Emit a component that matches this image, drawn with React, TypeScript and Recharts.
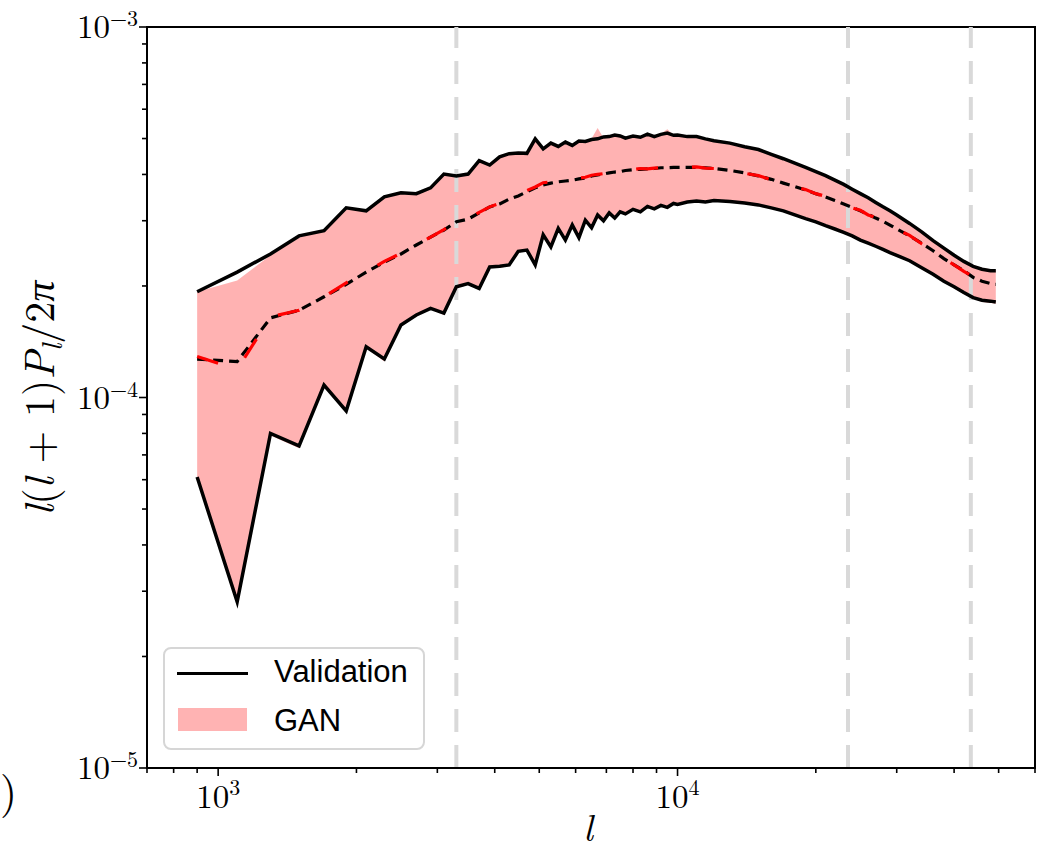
import React from 'react';
import {
  ComposedChart,
  Line,
  Area,
  XAxis,
  YAxis,
  ReferenceLine,
  ReferenceArea
} from 'recharts';

// multipole bins
const ells = [
  900, 1100, 1300, 1500, 1700, 1900, 2100, 2300, 2500, 2700,
  2900, 3100, 3300, 3500, 3700, 3900, 4100, 4300, 4500, 4700,
  4900, 5100, 5300, 5500, 5700, 5900, 6100, 6300, 6500, 6700,
  6900, 7100, 7300, 7500, 7700, 8000, 8300, 8600, 8900, 9200,
  9500, 9800, 10000, 10500, 11000, 11500, 12000, 13000, 14000, 15000,
  16000, 17000, 18000, 19000, 20000, 21000, 22000, 23000, 24000, 25000,
  26000, 27000, 28000, 29000, 30000, 32000, 34000, 36000, 38000, 40000,
  42000, 44000, 46000, 48000, 49300
];

// all power values below are in units of 1e-4
const valHigh = [
  1.93, 2.18, 2.44, 2.73, 2.82, 3.25, 3.19, 3.48, 3.57, 3.55,
  3.68, 4.01, 3.96, 4.01, 4.36, 4.24, 4.46, 4.55, 4.57, 4.56,
  4.99, 4.69, 4.86, 4.76, 4.89, 4.79, 4.92, 4.91, 4.97, 4.99,
  5.05, 5.06, 5.11, 5.08, 5.01, 5.08, 5.04, 5.14, 5.06, 5.13,
  5.17, 5.10, 5.11, 5.06, 5.06, 4.99, 4.93, 4.86, 4.75, 4.67,
  4.53, 4.41, 4.29, 4.18, 4.07, 3.97, 3.86, 3.76, 3.65, 3.55,
  3.46, 3.36, 3.27, 3.19, 3.11, 2.95, 2.80, 2.65, 2.53, 2.42,
  2.33, 2.26, 2.22, 2.20, 2.20
];

const valLow = [
  0.61, 0.281, 0.80, 0.74, 1.08, 0.92, 1.37, 1.27, 1.57, 1.67,
  1.74, 1.69, 1.99, 2.03, 1.97, 2.25, 2.26, 2.28, 2.48, 2.50,
  2.28, 2.75, 2.55, 2.86, 2.66, 2.92, 2.70, 3.01, 2.87, 3.11,
  3.00, 3.15, 3.05, 3.17, 3.13, 3.22, 3.17, 3.28, 3.23, 3.30,
  3.26, 3.34, 3.32, 3.37, 3.39, 3.37, 3.40, 3.38, 3.35, 3.31,
  3.25, 3.19, 3.11, 3.04, 2.98, 2.91, 2.85, 2.79, 2.73, 2.66,
  2.61, 2.56, 2.51, 2.46, 2.42, 2.34, 2.24, 2.15, 2.06, 1.99,
  1.92, 1.86, 1.83, 1.82, 1.81
];

const valMean = [
  1.27, 1.25, 1.64, 1.72, 1.87, 2.02, 2.18, 2.32, 2.44, 2.58,
  2.71, 2.83, 2.98, 3.03, 3.15, 3.27, 3.33, 3.43, 3.50, 3.59,
  3.68, 3.75, 3.79, 3.82, 3.84, 3.86, 3.89, 3.91, 3.96, 3.99,
  4.01, 4.04, 4.06, 4.07, 4.10, 4.12, 4.13, 4.14, 4.15, 4.17,
  4.17, 4.18, 4.18, 4.18, 4.18, 4.17, 4.15, 4.10, 4.04, 3.96,
  3.88, 3.79, 3.71, 3.63, 3.55, 3.48, 3.40, 3.33, 3.26, 3.19,
  3.12, 3.05, 2.99, 2.92, 2.85, 2.73, 2.61, 2.49, 2.37, 2.28,
  2.20, 2.11, 2.06, 2.03, 2.02
];

const ganHigh = [
  1.93, 2.07, 2.42, 2.70, 2.84, 3.22, 3.21, 3.46, 3.59, 3.57,
  3.70, 3.99, 3.98, 4.04, 4.33, 4.28, 4.44, 4.58, 4.55, 4.60,
  4.96, 4.72, 4.84, 4.80, 4.87, 4.83, 4.94, 4.93, 5.00, 5.34,
  5.02, 5.09, 5.08, 5.12, 5.03, 5.10, 5.07, 5.16, 5.10, 5.15,
  5.30, 5.12, 5.13, 5.08, 5.05, 5.01, 4.95, 4.88, 4.77, 4.69,
  4.56, 4.43, 4.31, 4.20, 4.09, 3.99, 3.88, 3.78, 3.67, 3.58,
  3.48, 3.38, 3.29, 3.20, 3.13, 2.97, 2.81, 2.67, 2.55, 2.44,
  2.35, 2.28, 2.24, 2.22, 2.21
];

const ganLow = [
  0.61, 0.281, 0.79, 0.73, 1.07, 0.91, 1.36, 1.25, 1.56, 1.66,
  1.73, 1.67, 1.98, 2.02, 1.95, 2.24, 2.24, 2.26, 2.46, 2.49,
  2.26, 2.73, 2.54, 2.84, 2.64, 2.90, 2.68, 2.99, 2.85, 3.04,
  2.98, 3.13, 3.03, 3.15, 3.11, 3.20, 3.15, 3.26, 3.20, 3.28,
  3.22, 3.32, 3.30, 3.35, 3.37, 3.35, 3.38, 3.36, 3.33, 3.29,
  3.23, 3.17, 3.09, 3.02, 2.96, 2.89, 2.83, 2.77, 2.71, 2.64,
  2.59, 2.54, 2.49, 2.44, 2.40, 2.32, 2.22, 2.13, 2.05, 1.97,
  1.90, 1.85, 1.81, 1.80, 1.79
];

const ganMean = [
  1.29, 1.19, 1.65, 1.72, 1.87, 2.04, 2.18, 2.33, 2.45, 2.58,
  2.71, 2.84, 2.98, 3.04, 3.16, 3.27, 3.34, 3.43, 3.52, 3.62,
  3.70, 3.80, 3.82, 3.86, 3.86, 3.88, 3.91, 3.93, 3.98, 4.00,
  4.02, 4.05, 4.07, 4.09, 4.11, 4.12, 4.15, 4.14, 4.16, 4.17,
  4.19, 4.18, 4.20, 4.18, 4.19, 4.16, 4.15, 4.11, 4.03, 3.97,
  3.87, 3.80, 3.70, 3.64, 3.55, 3.49, 3.39, 3.34, 3.25, 3.20,
  3.11, 3.06, 2.98, 2.93, 2.84, 2.74, 2.60, 2.49, 2.37, 2.28,
  2.19, 2.12, 2.06, 2.04, 2.03
];

const splitLines = [3300, 23500, 43500];

const xTicks = [
  700, 800, 900, 1000, 2000, 3000, 4000, 5000, 6000, 7000, 8000, 9000,
  10000, 20000, 30000, 40000, 50000, 60000
];
const yTicks = [
  1e-5, 2e-5, 3e-5, 4e-5, 5e-5, 6e-5, 7e-5, 8e-5, 9e-5,
  1e-4, 2e-4, 3e-4, 4e-4, 5e-4, 6e-4, 7e-4, 8e-4, 9e-4, 1e-3
];

const UNIT = 1e-4;
const data = ells.map((l, i) => ({
  l,
  hi: valHigh[i] * UNIT,
  lo: valLow[i] * UNIT,
  mean: valMean[i] * UNIT,
  gan: [ganLow[i] * UNIT, ganHigh[i] * UNIT],
  ganMean: ganMean[i] * UNIT
}));

const SERIF = '"Latin Modern Roman", "CMU Serif", "Liberation Serif", serif';
const SANS = '"Liberation Sans", "DejaVu Sans", sans-serif';

const isMajor = (v: number) => {
  const e = Math.log10(v);
  return Math.abs(e - Math.round(e)) < 1e-6;
};

const XTick = (props: any) => {
  const { x, y, payload } = props;
  const major = isMajor(payload.value);
  return (
    <g>
      <line x1={x} x2={x} y1={y} y2={y + (major ? 8 : 5)} stroke="#000" strokeWidth={1.6} />
      {major && (
        <text x={x} y={y + 40} textAnchor="middle" fontFamily={SERIF} fontSize={33} fill="#000">
          10<tspan dy={-13} fontSize={22}>{Math.round(Math.log10(payload.value))}</tspan>
        </text>
      )}
    </g>
  );
};

const YTick = (props: any) => {
  const { x, y, payload } = props;
  const major = isMajor(payload.value);
  const exp = Math.round(Math.log10(payload.value));
  return (
    <g>
      <line x1={x - (major ? 8 : 5)} x2={x} y1={y} y2={y} stroke="#000" strokeWidth={1.6} />
      {major && (
        <text x={x - 9} y={y + 11} textAnchor="end" fontFamily={SERIF} fontSize={33} fill="#000">
          10<tspan dy={-12} fontSize={22}>{'\u2212' + Math.abs(exp)}</tspan>
        </text>
      )}
    </g>
  );
};

const XLabel = () => (
  <text x={588} y={841} textAnchor="middle" fontFamily={SERIF} fontSize={38} fontStyle="italic" fill="#000">
    l
  </text>
);

const YLabel = () => (
  <text
    x={54}
    y={398}
    transform="rotate(-90, 54, 398)"
    textAnchor="middle"
    fontFamily={SERIF}
    fontSize={42}
    fill="#000"
  >
    <tspan fontStyle="italic">l</tspan>(<tspan fontStyle="italic">l</tspan> + 1)
    <tspan fontStyle="italic">P</tspan>
    <tspan fontStyle="italic" fontSize={29} dy={8}>l</tspan>
    <tspan dy={-8}>/2</tspan>
    <tspan fontStyle="italic">π</tspan>
  </text>
);

const PowerLegend = () => (
  <div
    style={{
      position: 'absolute',
      left: 163,
      top: 647,
      width: 258,
      height: 99,
      border: '2px solid #d6d6d6',
      borderRadius: 8,
      background: 'rgba(255,255,255,0.8)',
      fontFamily: SANS,
      fontSize: 31,
      color: '#000'
    }}
  >
    <div style={{ position: 'absolute', left: 12, top: 23, width: 71, height: 3, background: '#000' }} />
    <div style={{ position: 'absolute', left: 109, top: 5, lineHeight: '36px' }}>Validation</div>
    <div style={{ position: 'absolute', left: 13, top: 59, width: 69, height: 23, background: '#ffb3b3' }} />
    <div style={{ position: 'absolute', left: 109, top: 54, lineHeight: '36px' }}>GAN</div>
  </div>
);

export default function App() {
  return (
    <div style={{ position: 'absolute', left: 0, top: 0, width: 1038, height: 854, background: '#fff' }}>
      <ComposedChart
        width={1038}
        height={854}
        data={data}
        margin={{ top: 27, right: 3, bottom: 26, left: 67 }}
      >
        <XAxis
          dataKey="l"
          type="number"
          scale="log"
          domain={[700, 60000]}
          allowDataOverflow
          ticks={xTicks}
          interval={0}
          height={60}
          tickSize={0}
          tickMargin={0}
          tickLine={false}
          tick={<XTick />}
          axisLine={{ stroke: '#000', strokeWidth: 2 }}
          label={<XLabel />}
        />
        <YAxis
          type="number"
          scale="log"
          domain={[1e-5, 1e-3]}
          allowDataOverflow
          ticks={yTicks}
          interval={0}
          width={80}
          tickSize={0}
          tickMargin={0}
          tickLine={false}
          tick={<YTick />}
          axisLine={{ stroke: '#000', strokeWidth: 2 }}
          label={<YLabel />}
        />
        {splitLines.map((v) => (
          <ReferenceLine
            key={v}
            x={v}
            stroke="#d9d9d9"
            strokeWidth={4}
            strokeDasharray="23 13"
          />
        ))}
        <Area
          dataKey="gan"
          type="linear"
          fill="#ff0000"
          fillOpacity={0.3}
          stroke="none"
          isAnimationActive={false}
          activeDot={false}
        />
        <Line
          dataKey="mean"
          type="linear"
          stroke="#000"
          strokeWidth={3.2}
          strokeDasharray="10 6"
          dot={false}
          activeDot={false}
          isAnimationActive={false}
        />
        <Line
          dataKey="ganMean"
          type="linear"
          stroke="#ff0000"
          strokeWidth={3.2}
          strokeDasharray="22 34"
          dot={false}
          activeDot={false}
          isAnimationActive={false}
        />
        <Line
          dataKey="hi"
          type="linear"
          stroke="#000"
          strokeWidth={3.5}
          dot={false}
          activeDot={false}
          isAnimationActive={false}
        />
        <Line
          dataKey="lo"
          type="linear"
          stroke="#000"
          strokeWidth={3.5}
          dot={false}
          activeDot={false}
          isAnimationActive={false}
        />
        <ReferenceArea
          x1={700}
          x2={60000}
          y1={1e-5}
          y2={1e-3}
          fill="none"
          fillOpacity={0}
          stroke="#000"
          strokeWidth={2}
          ifOverflow="visible"
        />
      </ComposedChart>
      <PowerLegend />
      <span
        style={{ position: 'absolute', left: 0, top: 764, fontFamily: SERIF, fontSize: 44, lineHeight: '50px' }}
      >
        )
      </span>
    </div>
  );
}
